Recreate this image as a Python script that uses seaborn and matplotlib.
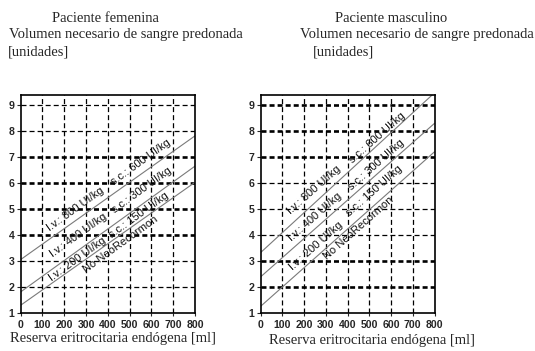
import numpy as np
import pandas as pd
import matplotlib
matplotlib.use("Agg")
import matplotlib.pyplot as plt
import seaborn as sns

# ---------------- data ----------------
x_ml = [0, 800]
fem_lines = {
    "top": [3.06, 7.80],
    "mid": [1.82, 6.64],
    "low": [1.31, 6.02],
}
masc_lines = {
    "top": [3.33, 9.45],
    "mid": [2.40, 8.28],
    "low": [1.27, 7.19],
}
x_ticks = [0, 100, 200, 300, 400, 500, 600, 700, 800]
y_ticks = [1, 2, 3, 4, 5, 6, 7, 8, 9]

fem_labels = [
    ("I.v.: 800 UI/kg", 249, 5.00),
    ("s.c.: 600 UI/kg", 551, 6.79),
    ("I.v.: 400 UI/kg", 264, 3.98),
    ("s.c.: 300 UI/kg", 555, 5.71),
    ("I.v.: 200 UI/kg", 260, 3.08),
    ("s.c.: 150 UI/kg", 540, 4.74),
    ("No NeoRecormon", 456, 3.64),
]
masc_labels = [
    ("I.v.: 800 UI/kg", 245, 5.72),
    ("s.c.: 600 UI/kg", 537, 7.74),
    ("I.v.: 400 UI/kg", 250, 4.70),
    ("s.c.: 300 UI/kg", 531, 6.70),
    ("I.v.: 200 UI/kg", 253, 3.60),
    ("s.c.: 150 UI/kg", 522, 5.68),
    ("No NeoRecormon", 449, 4.28),
]
fem_thick_rows = [4, 5, 6, 7]
masc_thick_rows = [2, 3, 7, 8, 9]

titles_fem = ["Paciente femenina", "Volumen necesario de sangre predonada", "[unidades]"]
titles_masc = ["Paciente masculino", "Volumen necesario de sangre predonada", "[unidades]"]
xlabel = "Reserva eritrocitaria endógena [ml]"

# ---------------- style ----------------
sns.set_style("white")
plt.rcParams["font.family"] = ["Liberation Sans", "DejaVu Sans"]
plt.rcParams["lines.scale_dashes"] = False

lab_family = ["Liberation Sans", "DejaVu Sans"]
lab_size = 8.0
tick_size = 7.6

fig = plt.figure(figsize=(5.35, 3.51), dpi=100)
ax1 = fig.add_axes([0.0387, 0.1074, 0.3258, 0.6208])
ax2 = fig.add_axes([0.4873, 0.1074, 0.3249, 0.6208])


def make_df(lines):
    rows = []
    for name, ys in lines.items():
        for xv, yv in zip(x_ml, ys):
            rows.append({"ml": xv, "unidades": yv, "linea": name})
    return pd.DataFrame(rows)


def draw(ax, lines, labels, thick_rows):
    ax.set_xlim(0, 800)
    ax.set_ylim(1, 9.35)
    for xv in x_ticks[1:-1]:
        ax.axvline(xv, color="black", lw=0.9, dashes=(3.6, 2.2), zorder=1)
    for yv in y_ticks[1:]:
        lw = 1.9 if yv in thick_rows else 0.9
        ax.axhline(yv, color="black", lw=lw, dashes=(3.6, 2.2), zorder=1)
    df = make_df(lines)
    sns.lineplot(data=df, x="ml", y="unidades", units="linea", estimator=None,
                 color="#7a7a7a", lw=0.8, ax=ax, legend=False, zorder=2)
    ax.set_xlabel("")
    ax.set_ylabel("")
    ax.set_xticks(x_ticks)
    ax.set_yticks(y_ticks)
    ax.set_xticklabels([str(v) for v in x_ticks], fontsize=tick_size, fontweight="bold",
                       family=lab_family)
    ax.set_yticklabels([str(v) for v in y_ticks], fontsize=tick_size, fontweight="bold",
                       family=lab_family)
    ax.tick_params(axis="y", length=3, width=0.8, pad=1.5, direction="out", left=True)
    ax.tick_params(axis="x", length=2, width=0.8, pad=2.5, direction="out", bottom=True)
    for s in ax.spines.values():
        s.set_color("black")
        s.set_linewidth(1.2)
        s.set_visible(True)
    ys = lines["mid"]
    p0 = ax.transData.transform((x_ml[0], ys[0]))
    p1 = ax.transData.transform((x_ml[1], ys[1]))
    ang = np.degrees(np.arctan2(p1[1] - p0[1], p1[0] - p0[0]))
    for txt, xv, yv in labels:
        ax.text(xv, yv, txt, rotation=ang, rotation_mode="anchor", ha="center",
                va="center", fontsize=lab_size, color="#111111", zorder=3,
                family=lab_family)


draw(ax1, fem_lines, fem_labels, fem_thick_rows)
draw(ax2, masc_lines, masc_labels, masc_thick_rows)

serif = ["Liberation Serif", "DejaVu Serif"]
fs_t = 10.5
fig.text(0.198, 0.9487, titles_fem[0], ha="center", va="center", family=serif, fontsize=fs_t)
fig.text(0.0174, 0.9003, titles_fem[1], ha="left", va="center", family=serif, fontsize=fs_t)
fig.text(0.0155, 0.8519, titles_fem[2], ha="left", va="center", family=serif, fontsize=fs_t)
fig.text(0.7318, 0.9487, titles_masc[0], ha="center", va="center", family=serif, fontsize=fs_t)
fig.text(0.5607, 0.9003, titles_masc[1], ha="left", va="center", family=serif, fontsize=fs_t)
fig.text(0.585, 0.8519, titles_masc[2], ha="left", va="center", family=serif, fontsize=fs_t)
fig.text(0.2103, 0.0342, xlabel, ha="center", va="center", family=serif, fontsize=fs_t)
fig.text(0.696, 0.0313, xlabel, ha="center", va="center", family=serif, fontsize=fs_t)

fig.savefig("out.png", dpi=100, facecolor="white")
